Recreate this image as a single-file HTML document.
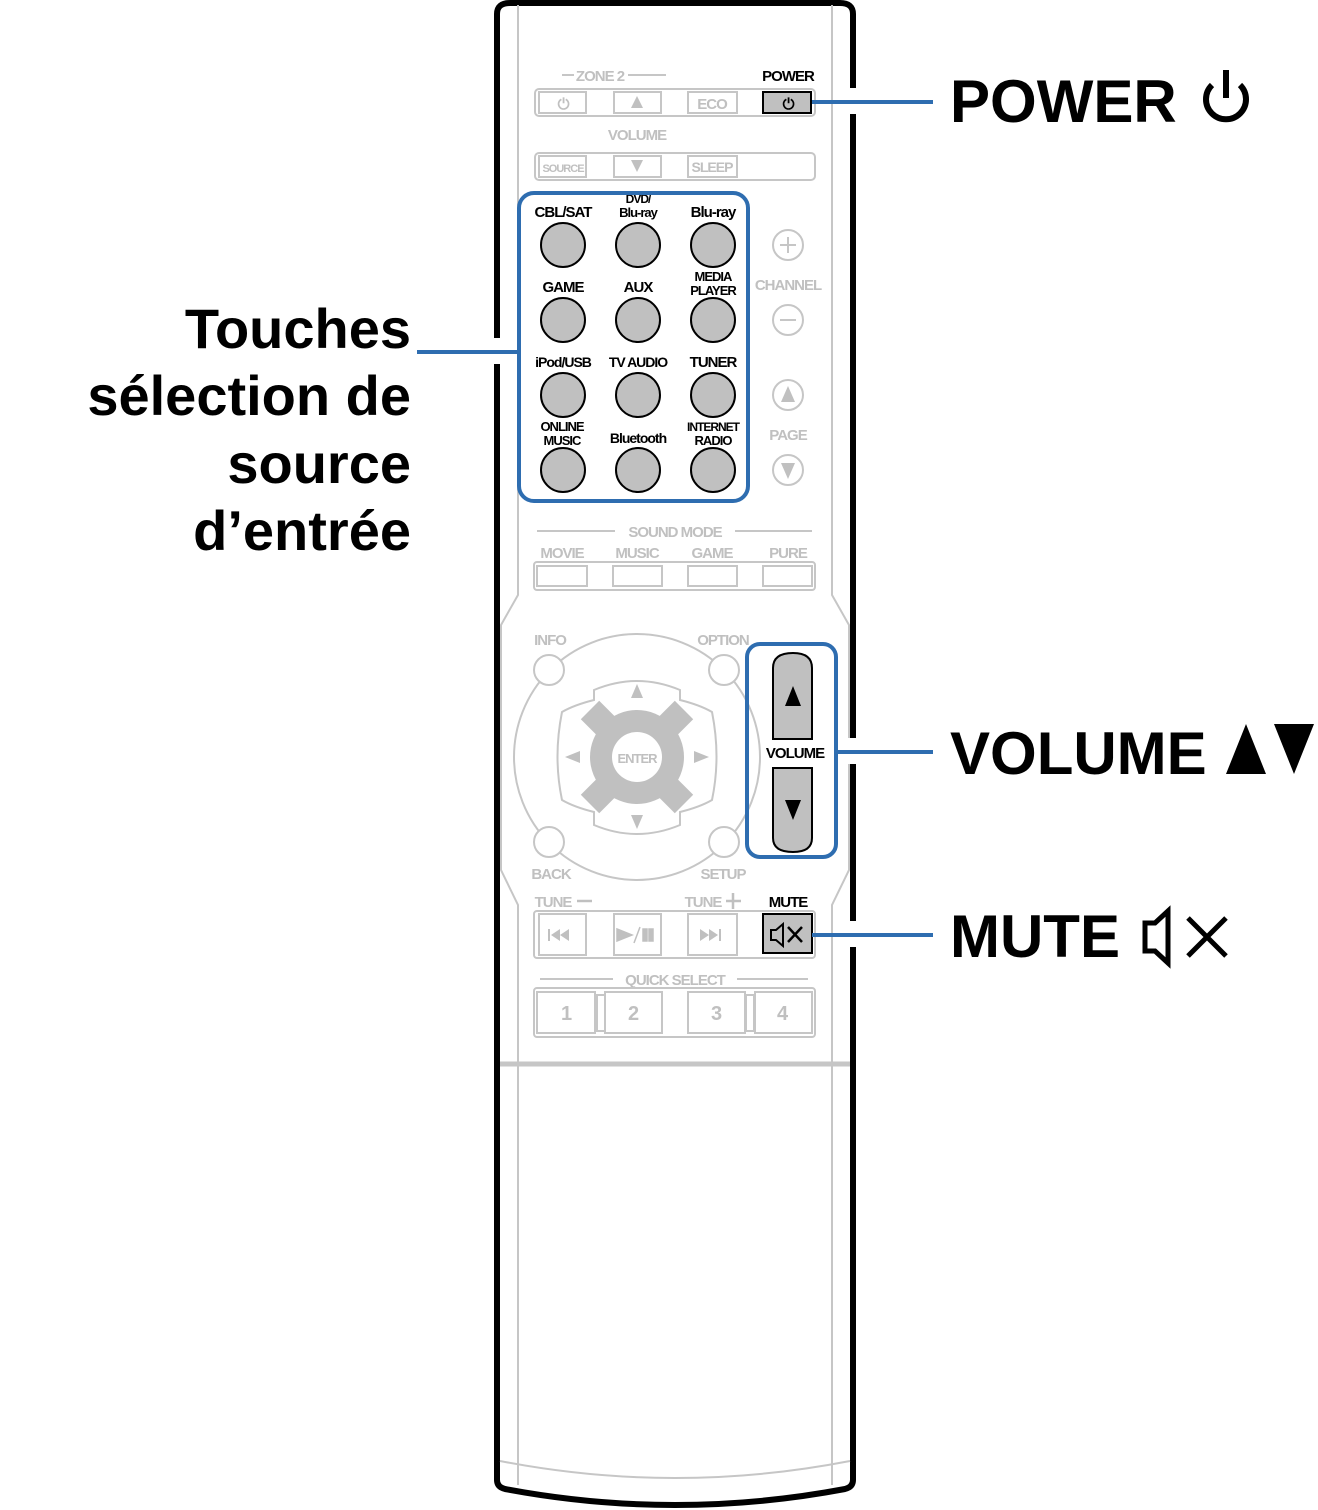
<!DOCTYPE html>
<html><head><meta charset="utf-8"><style>
html,body{margin:0;padding:0;background:#fff;}
svg{display:block;}
.g{font-family:"Liberation Sans Narrow","Liberation Sans",sans-serif;font-weight:bold;}
.g text{letter-spacing:-1px;}
</style></head><body>
<svg width="1318" height="1510" viewBox="0 0 1318 1510" xmlns="http://www.w3.org/2000/svg">
<path d="M497 1480 L497 14 Q497 3 510 3 L840 3 Q853 3 853 14 L853 1480 Q853 1487 845 1489 Q760 1505 675 1505 Q590 1505 505 1489 Q497 1487 497 1480 Z" fill="#fff" stroke="#000" stroke-width="6"/>
<g fill="none" stroke="#c6c6c6" stroke-width="2">
<path d="M518 5 L518 595 L501 625 L501 870 L518 905 L518 1485"/>
<path d="M832 5 L832 595 L849 625 L849 870 L832 905 L832 1485"/>
<path d="M500 1461 Q675 1495 850 1461"/>
</g>
<line x1="500" y1="1064" x2="850" y2="1064" stroke="#c6c6c6" stroke-width="5"/>
<g class="g" fill="#c0c0c0" text-anchor="middle" font-size="15">
<line x1="562" y1="75" x2="574" y2="75" stroke="#c6c6c6" stroke-width="2"/>
<line x1="628" y1="75" x2="666" y2="75" stroke="#c6c6c6" stroke-width="2"/>
<text x="600" y="81">ZONE 2</text>
<text x="637" y="140">VOLUME</text>
<g fill="none" stroke="#c6c6c6" stroke-width="2">
<rect x="535" y="89" width="280" height="27" rx="4"/>
<rect x="539" y="92" width="47" height="21"/>
<rect x="614" y="92" width="47" height="21"/>
<rect x="688" y="92" width="49" height="21"/>
<rect x="535" y="153" width="280" height="27" rx="4"/>
<rect x="539" y="156" width="47" height="21"/>
<rect x="614" y="156" width="47" height="21"/>
<rect x="688" y="156" width="49" height="21"/>
</g>
<text x="563" y="109" font-size="15">⏻</text>
<path d="M637 96 L643 108 L631 108 Z"/>
<text x="712" y="109">ECO</text>
<text x="563" y="172" font-size="11">SOURCE</text>
<path d="M631 160 L643 160 L637 172 Z"/>
<text x="712" y="172" font-size="14">SLEEP</text>
<g fill="none" stroke="#c6c6c6" stroke-width="2">
<circle cx="788" cy="245" r="15"/><circle cx="788" cy="320" r="15"/>
<circle cx="788" cy="395" r="15"/><circle cx="788" cy="470" r="15"/>
<path d="M788 237 V253 M780 245 H796 M780 320 H796"/>
</g>
<path d="M788 386 L795 402 L781 402 Z"/><path d="M781 463 L795 463 L788 479 Z"/>
<text x="788" y="290">CHANNEL</text>
<text x="788" y="440">PAGE</text>
<line x1="537" y1="531" x2="615" y2="531" stroke="#c6c6c6" stroke-width="2"/>
<line x1="735" y1="531" x2="812" y2="531" stroke="#c6c6c6" stroke-width="2"/>
<text x="675" y="537">SOUND MODE</text>
<text x="562" y="558">MOVIE</text><text x="637" y="558">MUSIC</text><text x="712" y="558">GAME</text><text x="788" y="558">PURE</text>
<g fill="none" stroke="#c6c6c6" stroke-width="2">
<rect x="534" y="562" width="281" height="28" rx="3"/>
<rect x="537" y="566" width="50" height="20"/><rect x="613" y="566" width="49" height="20"/>
<rect x="688" y="566" width="49" height="20"/><rect x="763" y="566" width="49" height="20"/>
<circle cx="637" cy="757" r="123"/>
<path d="M594 690 Q637 672 680 690 L680 700 Q700 705 712 712 Q721 757 712 800 Q700 807 680 812 L680 825 Q637 843 594 825 L594 812 Q574 807 562 800 Q553 757 562 712 Q574 705 594 700 Z" fill="#fff"/>
</g>
<g stroke="#c0c0c0" stroke-width="26"><line x1="590" y1="710" x2="684" y2="804"/><line x1="684" y1="710" x2="590" y2="804"/></g>
<circle cx="637" cy="757" r="47" fill="#c0c0c0"/>
<circle cx="637" cy="757" r="25" fill="#fff"/>
<text x="637" y="763" fill="#c0c0c0" font-size="13">ENTER</text>
<path d="M637 684 L643 698 L631 698 Z"/><path d="M631 815 L643 815 L637 829 Z"/>
<path d="M565 757 L580 751 L580 763 Z"/><path d="M709 757 L694 751 L694 763 Z"/>
<g fill="#fff" stroke="#c6c6c6" stroke-width="2">
<circle cx="549" cy="670" r="15"/><circle cx="724" cy="670" r="15"/>
<circle cx="549" cy="842" r="15"/><circle cx="724" cy="842" r="15"/>
</g>
<text x="550" y="645">INFO</text><text x="723" y="645">OPTION</text>
<text x="551" y="879">BACK</text><text x="723" y="879">SETUP</text>
<text x="553" y="907">TUNE</text><line x1="577" y1="901" x2="592" y2="901" stroke="#c0c0c0" stroke-width="2.5"/>
<text x="703" y="907">TUNE</text><path d="M733 893 V909 M726 901 H741" stroke="#c0c0c0" stroke-width="2.5"/>
<g fill="none" stroke="#c6c6c6" stroke-width="2">
<rect x="534" y="911" width="281" height="47" rx="3"/>
<rect x="539" y="914" width="47" height="41"/><rect x="614" y="914" width="47" height="41"/><rect x="688" y="914" width="49" height="41"/>
</g>
<path d="M548 929 h2 v12 h-2z M551 935 L560 929 V941Z M560 935 L569 929 V941Z"/>
<path d="M617 929 L632 935 L617 941Z M634 943 L640 927 M643 929 h4 v12 h-4z M649 929 h4 v12 h-4z" stroke="#c0c0c0" stroke-width="1.5"/>
<path d="M700 929 L709 935 L700 941Z M709 929 L718 935 L709 941Z M719 929 h2 v12 h-2z"/>
<line x1="540" y1="979" x2="613" y2="979" stroke="#c6c6c6" stroke-width="2"/>
<line x1="737" y1="979" x2="808" y2="979" stroke="#c6c6c6" stroke-width="2"/>
<text x="675" y="985">QUICK SELECT</text>
<g fill="none" stroke="#c6c6c6" stroke-width="2">
<rect x="534" y="988" width="281" height="49" rx="3"/>
<rect x="537" y="992" width="58" height="41"/><rect x="597" y="995" width="8" height="36"/><rect x="605" y="992" width="57" height="41"/>
<rect x="688" y="992" width="57" height="41"/><rect x="746" y="995" width="8" height="36"/><rect x="755" y="992" width="57" height="41"/>
</g>
<g font-size="20"><text x="566" y="1020">1</text><text x="633" y="1020">2</text><text x="716" y="1020">3</text><text x="782" y="1020">4</text></g>
</g>
<g class="g" fill="#000" text-anchor="middle" font-size="15">
<text x="788" y="81">POWER</text>
<rect x="763" y="92" width="48" height="21" fill="#c0c0c0" stroke="#000" stroke-width="2"/>
<text x="788" y="109" font-size="15">⏻</text>
<text x="563" y="217">CBL/SAT</text>
<text x="638" y="203" font-size="12">DVD/</text><text x="638" y="217" font-size="13">Blu-ray</text>
<text x="713" y="217">Blu-ray</text>
<text x="563" y="292">GAME</text><text x="638" y="292">AUX</text>
<text x="713" y="281" font-size="13">MEDIA</text><text x="713" y="295" font-size="13">PLAYER</text>
<text x="563" y="367" font-size="14">iPod/USB</text><text x="638" y="367" font-size="14">TV AUDIO</text><text x="713" y="367">TUNER</text>
<text x="562" y="431" font-size="13">ONLINE</text><text x="562" y="445" font-size="13">MUSIC</text>
<text x="638" y="443" font-size="14">Bluetooth</text>
<text x="713" y="431" font-size="12">INTERNET</text><text x="713" y="445" font-size="13">RADIO</text>
<g fill="#c0c0c0" stroke="#000" stroke-width="2">
<circle cx="563" cy="245" r="22"/><circle cx="638" cy="245" r="22"/><circle cx="713" cy="245" r="22"/>
<circle cx="563" cy="320" r="22"/><circle cx="638" cy="320" r="22"/><circle cx="713" cy="320" r="22"/>
<circle cx="563" cy="395" r="22"/><circle cx="638" cy="395" r="22"/><circle cx="713" cy="395" r="22"/>
<circle cx="563" cy="470" r="22"/><circle cx="638" cy="470" r="22"/><circle cx="713" cy="470" r="22"/>
<path d="M773 739 V668 Q773 653 793 653 Q812 653 812 668 V739 Z"/>
<path d="M773 768 V838 Q773 852 793 852 Q812 852 812 838 V768 Z"/>
<rect x="763" y="914" width="49" height="39"/>
</g>
<path d="M793 686 L801 706 L785 706 Z"/><path d="M785 800 L801 800 L793 820 Z"/>
<text x="795" y="758">VOLUME</text>
<text x="788" y="907">MUTE</text>
<path d="M771 930 h5 l7 -6 v22 l-7 -6 h-5 z" fill="none" stroke="#000" stroke-width="2"/>
<path d="M788 927 L802 942 M802 927 L788 942" stroke="#000" stroke-width="2.5"/>
</g>
<g fill="none" stroke="#2e6db0" stroke-width="4">
<rect x="519" y="193" width="229" height="308" rx="15"/>
<rect x="747" y="644" width="89" height="213" rx="13"/>
</g>
<rect x="490" y="338" width="14" height="26" fill="#fff"/>
<rect x="846" y="88" width="14" height="26" fill="#fff"/>
<rect x="846" y="738" width="14" height="26" fill="#fff"/>
<rect x="846" y="921" width="14" height="26" fill="#fff"/>
<g stroke="#2e6db0" stroke-width="4">
<line x1="812" y1="102" x2="933" y2="102"/>
<line x1="837" y1="752" x2="933" y2="752"/>
<line x1="812" y1="935" x2="933" y2="935"/>
<line x1="417" y1="352" x2="519" y2="352"/>
</g>
<g font-family="'Liberation Sans',sans-serif" font-weight="bold" font-size="60" fill="#000">
<text x="950" y="122">POWER</text>
<g fill="none" stroke="#000" stroke-width="6"><path d="M1212 85 A20 20 0 1 0 1240 85"/><line x1="1226" y1="70" x2="1226" y2="98"/></g>
<text x="950" y="774">VOLUME</text>
<path d="M1226 774 L1246 724 L1266 774 Z M1274 724 L1314 724 L1294 774 Z" fill="#000"/>
<text x="950" y="957">MUTE</text>
<path d="M1145 923 h10 l13 -12 v52 l-13 -12 h-10 z" fill="none" stroke="#000" stroke-width="5"/>
<path d="M1188 918 L1226 956 M1226 918 L1188 956" stroke="#000" stroke-width="5"/>
<g text-anchor="end" font-size="56">
<text x="411" y="348">Touches</text>
<text x="411" y="415">sélection de</text>
<text x="411" y="483">source</text>
<text x="411" y="550">d’entrée</text>
</g>
</g>
</svg>
</body></html>
